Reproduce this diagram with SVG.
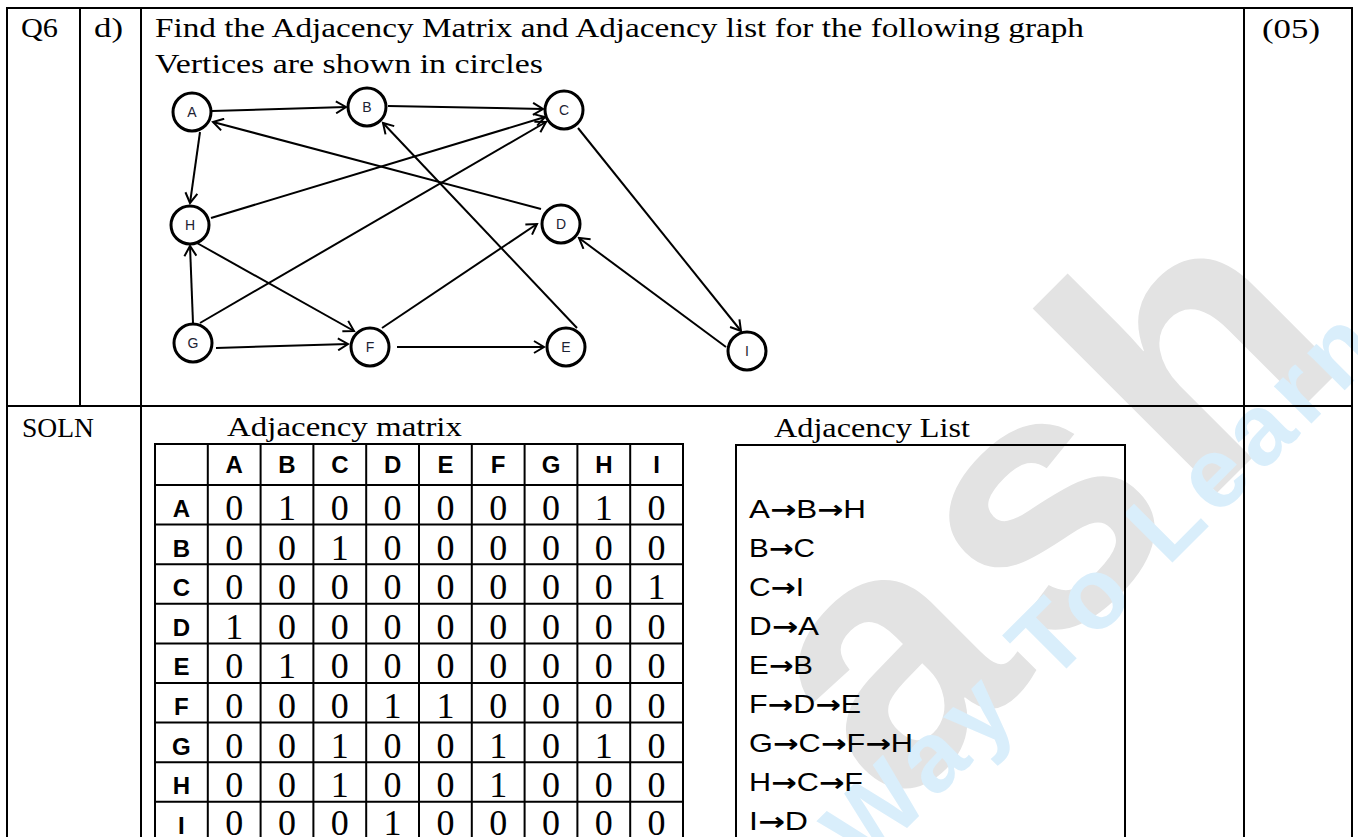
<svg xmlns="http://www.w3.org/2000/svg" width="1358" height="837" viewBox="0 0 1358 837">
<style>
.frame{stroke:#000;stroke-width:2;fill:none}
.serif{font-family:"Liberation Serif","Times New Roman",serif;fill:#000}
.q{font-size:28px}
.edge{stroke:#000;stroke-width:2;fill:none;marker-end:url(#ah)}
.node circle{fill:#fff;stroke:#000;stroke-width:3}
.node text{font-family:"Liberation Sans",Arial,sans-serif;font-size:14px;fill:#1c2233;text-anchor:middle}
.grid{stroke:#000;stroke-width:2;fill:none}
.hdr{font-family:"Liberation Sans",Arial,sans-serif;font-weight:bold;font-size:24px;fill:#000;text-anchor:middle}
.dig{font-family:"Liberation Serif","Times New Roman",serif;font-size:36px;fill:#000;text-anchor:middle}
.lst{font-family:"Liberation Sans",Arial,sans-serif;font-size:25px;fill:#000}
.ar{font-family:"DejaVu Sans",sans-serif;font-weight:bold}
.wm1{font-family:"Liberation Sans",Arial,sans-serif;font-weight:bold;font-size:360px;fill:#e3e3e3}
.wm2{font-family:"Liberation Sans",Arial,sans-serif;font-weight:bold;font-size:100px;fill:#d9eefb}
</style>
<defs>
<marker id="ah" markerWidth="14" markerHeight="14" refX="12" refY="7" orient="auto" markerUnits="userSpaceOnUse">
<path d="M2,1 L12,7 L2,13" fill="none" stroke="#000" stroke-width="2"/>
</marker>
</defs>
<rect width="1358" height="837" fill="#fff"/>
<g id="watermark">
<text class="wm1" transform="translate(895,815) rotate(-45)" letter-spacing="15">ash</text>
<text class="wm2" transform="translate(865,870) rotate(-45)" letter-spacing="8">Way To Learn</text>
</g>
<g id="frame">
<line class="frame" x1="6" y1="8" x2="1353" y2="8"/>
<line class="frame" x1="7" y1="8" x2="7" y2="840"/>
<line class="frame" x1="1352" y1="8" x2="1352" y2="840"/>
<line class="frame" x1="6" y1="406" x2="1353" y2="406"/>
<line class="frame" x1="80" y1="8" x2="80" y2="406"/>
<line class="frame" x1="141" y1="8" x2="141" y2="840"/>
<line class="frame" x1="1244" y1="8" x2="1244" y2="840"/>
</g>
<g id="question">
<text class="serif q" x="21" y="37" textLength="37" lengthAdjust="spacingAndGlyphs">Q6</text>
<text class="serif q" x="94" y="37" textLength="29" lengthAdjust="spacingAndGlyphs">d)</text>
<text class="serif q" x="155" y="37" textLength="929" lengthAdjust="spacingAndGlyphs">Find the Adjacency Matrix and Adjacency list for the following graph</text>
<text class="serif q" x="155" y="73" textLength="388" lengthAdjust="spacingAndGlyphs">Vertices are shown in circles</text>
<text class="serif q" x="1262" y="38" textLength="58" lengthAdjust="spacingAndGlyphs">(05)</text>
<text class="serif q" x="22" y="437" textLength="72" lengthAdjust="spacingAndGlyphs">SOLN</text>
</g>
<g id="connectors">
<line class="edge" x1="212" y1="111" x2="346" y2="107"/>
<line class="edge" x1="200" y1="132" x2="190" y2="203"/>
<line class="edge" x1="388" y1="106" x2="543" y2="109"/>
<line class="edge" x1="578" y1="128" x2="741" y2="331"/>
<line class="edge" x1="541" y1="209" x2="213" y2="122"/>
<line class="edge" x1="577" y1="328" x2="383" y2="123"/>
<line class="edge" x1="382" y1="328" x2="537" y2="224"/>
<line class="edge" x1="397" y1="347" x2="544" y2="347"/>
<line class="edge" x1="200" y1="323" x2="546" y2="122"/>
<line class="edge" x1="216" y1="348" x2="348" y2="344"/>
<line class="edge" x1="193" y1="323" x2="190" y2="246"/>
<line class="edge" x1="211" y1="218" x2="545" y2="117"/>
<line class="edge" x1="197" y1="243" x2="354" y2="331"/>
<line class="edge" x1="726" y1="347" x2="579" y2="238"/>
</g>
<g id="node-A" class="node"><circle cx="192" cy="112" r="19"/><text x="192" y="117">A</text></g>
<g id="node-B" class="node"><circle cx="367" cy="107" r="19"/><text x="367" y="112">B</text></g>
<g id="node-C" class="node"><circle cx="564" cy="110" r="19"/><text x="564" y="115">C</text></g>
<g id="node-H" class="node"><circle cx="190" cy="225" r="19"/><text x="190" y="230">H</text></g>
<g id="node-D" class="node"><circle cx="561" cy="224" r="19"/><text x="561" y="229">D</text></g>
<g id="node-G" class="node"><circle cx="193" cy="343" r="19"/><text x="193" y="348">G</text></g>
<g id="node-F" class="node"><circle cx="370" cy="347" r="19"/><text x="370" y="352">F</text></g>
<g id="node-E" class="node"><circle cx="566" cy="347" r="19"/><text x="566" y="352">E</text></g>
<g id="node-I" class="node"><circle cx="747" cy="351" r="19"/><text x="747" y="356">I</text></g>
<g id="matrix">
<text class="serif q" x="227" y="436" textLength="235" lengthAdjust="spacingAndGlyphs">Adjacency matrix</text>
<path class="grid" d="M155,444 H683 M155,485 H683 M155,524.6 H683 M155,564.2 H683 M155,603.8 H683 M155,643.4 H683 M155,683 H683 M155,722.6 H683 M155,762.2 H683 M155,801.8 H683 M155,841.4 H683 M155,443 V842 M207.8,443 V842 M260.6,443 V842 M313.4,443 V842 M366.2,443 V842 M419,443 V842 M471.8,443 V842 M524.6,443 V842 M577.4,443 V842 M630.2,443 V842 M683,443 V842"/>
<text class="hdr" x="234.2 287 339.8 392.6 445.4 498.2 551 603.8 656.6" y="473">ABCDEFGHI</text>
<text class="hdr" x="181.4 181.4 181.4 181.4 181.4 181.4 181.4 181.4 181.4" y="517 556.6 596.2 635.8 675.4 715 754.6 794.2 833.8">ABCDEFGHI</text>
<text class="dig" x="234.2 287 339.8 392.6 445.4 498.2 551 603.8 656.6" y="520">010000010</text>
<text class="dig" x="234.2 287 339.8 392.6 445.4 498.2 551 603.8 656.6" y="559.6">001000000</text>
<text class="dig" x="234.2 287 339.8 392.6 445.4 498.2 551 603.8 656.6" y="599.2">000000001</text>
<text class="dig" x="234.2 287 339.8 392.6 445.4 498.2 551 603.8 656.6" y="638.8">100000000</text>
<text class="dig" x="234.2 287 339.8 392.6 445.4 498.2 551 603.8 656.6" y="678.4">010000000</text>
<text class="dig" x="234.2 287 339.8 392.6 445.4 498.2 551 603.8 656.6" y="718">000110000</text>
<text class="dig" x="234.2 287 339.8 392.6 445.4 498.2 551 603.8 656.6" y="757.6">001001010</text>
<text class="dig" x="234.2 287 339.8 392.6 445.4 498.2 551 603.8 656.6" y="797.2">001001000</text>
<text class="dig" x="234.2 287 339.8 392.6 445.4 498.2 551 603.8 656.6" y="835">000100000</text>
</g>
<g id="adjlist">
<text class="serif q" x="774" y="437" textLength="196" lengthAdjust="spacingAndGlyphs">Adjacency List</text>
<rect class="grid" x="736" y="445" width="389" height="400"/>
<text class="lst" x="749" y="518" textLength="117" lengthAdjust="spacingAndGlyphs">A<tspan class="ar">→</tspan>B<tspan class="ar">→</tspan>H</text>
<text class="lst" x="749" y="557" textLength="66" lengthAdjust="spacingAndGlyphs">B<tspan class="ar">→</tspan>C</text>
<text class="lst" x="749" y="596" textLength="55" lengthAdjust="spacingAndGlyphs">C<tspan class="ar">→</tspan>I</text>
<text class="lst" x="749" y="635" textLength="70" lengthAdjust="spacingAndGlyphs">D<tspan class="ar">→</tspan>A</text>
<text class="lst" x="749" y="674" textLength="64" lengthAdjust="spacingAndGlyphs">E<tspan class="ar">→</tspan>B</text>
<text class="lst" x="749" y="713" textLength="112" lengthAdjust="spacingAndGlyphs">F<tspan class="ar">→</tspan>D<tspan class="ar">→</tspan>E</text>
<text class="lst" x="749" y="752" textLength="164" lengthAdjust="spacingAndGlyphs">G<tspan class="ar">→</tspan>C<tspan class="ar">→</tspan>F<tspan class="ar">→</tspan>H</text>
<text class="lst" x="749" y="791" textLength="114" lengthAdjust="spacingAndGlyphs">H<tspan class="ar">→</tspan>C<tspan class="ar">→</tspan>F</text>
<text class="lst" x="749" y="830" textLength="59" lengthAdjust="spacingAndGlyphs">I<tspan class="ar">→</tspan>D</text>
</g>
</svg>
